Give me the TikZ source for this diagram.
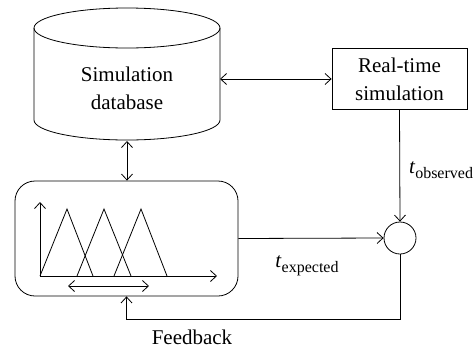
\documentclass[tikz,border=0pt]{standalone}
\usepackage{fontspec}
\setmainfont{Liberation Serif}
\usetikzlibrary{arrows.meta}
\tikzset{
  ln/.style={line width=0.8pt},
  tip/.style={arrows={-Straight Barb[length=6pt,width=11pt]}},
  dtip/.style={arrows={Straight Barb[length=6pt,width=11pt]-Straight Barb[length=6pt,width=11pt]}},
  lbl/.style={font=\fontsize{21}{28}\selectfont, align=center},
}
\newcommand{\sublbl}[1]{\textit{t}\raisebox{-0.25em}{\fontsize{16}{16}\selectfont #1}}
\begin{document}
\begin{tikzpicture}[x=1pt,y=-1pt,ln]
\useasboundingbox (0,0) rectangle (476,351);
% cylinder
\draw (127,28) ellipse [x radius=93pt, y radius=20pt];
\draw (34,28) -- (34,120) arc[start angle=180, end angle=360, x radius=93pt, y radius=20pt] -- (220,28);
\node[lbl] (db) at (127,88) {Simulation\\database};
\coordinate (dbR) at (220,79);
\coordinate (dbB) at (127,141);
% real-time box
\node[draw, lbl, minimum width=135pt, minimum height=61pt, inner sep=0pt] (rt) at (399.5,79) {Real-time\\simulation};
% summing circle
\node[draw, circle, minimum size=32pt, inner sep=0pt] (sum) at (400,238) {};
% fuzzy box
\node[draw, rounded corners=20pt, minimum width=223pt, minimum height=115pt] (fz) at (126.5,238.5) {};
% connectors
\draw[dtip] (dbR) -- (rt.west);
\draw[dtip] (dbB) -- (dbB |- fz.north);
\draw[tip] (rt.south) -- (sum.north);
\node[lbl] (tobs) at (441,170) {\sublbl{observed}};
\draw[tip] (fz.east) -- (sum.west);
\node[lbl] (texp) at (307,266) {\sublbl{expected}};
\coordinate (fbc) at (400,319);
\draw[tip] (sum.south) -- (fbc) -| (fz.south);
\node[lbl] (fb) at (192,337) {Feedback};
% membership functions
\draw[tip] (40,276) -- (40,202);
\draw[tip] (40,276) -- (217,276);
\draw (40,276) -- (67,209) -- (93,276);
\draw (77,276) -- (104,209) -- (131,276);
\draw (114,276) -- (141,209) -- (167,276);
\draw[dtip] (68,286) -- (149,286);
\end{tikzpicture}
\end{document}
